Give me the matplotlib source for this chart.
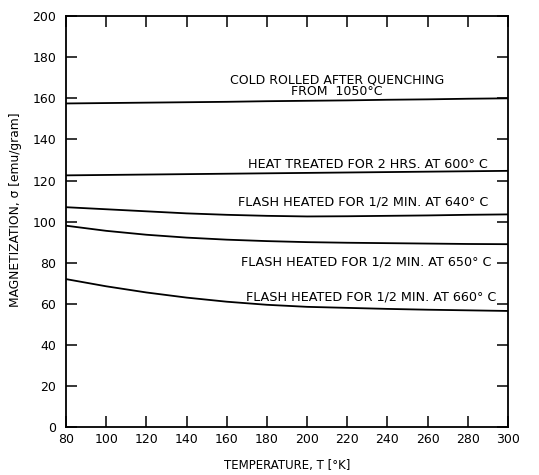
import matplotlib
matplotlib.use("Agg")
import matplotlib.pyplot as plt
import numpy as np

T = [80, 100, 120, 140, 160, 180, 200, 220, 240, 260, 280, 300]
cold_rolled = [157.5, 157.7, 157.9, 158.1, 158.3, 158.6, 158.8, 159.0, 159.3, 159.5, 159.8, 160.0]
heat_600 = [122.5, 122.7, 122.9, 123.1, 123.3, 123.5, 123.7, 123.9, 124.1, 124.3, 124.5, 124.7]
flash_640 = [107.0, 106.0, 105.0, 104.0, 103.3, 102.8, 102.5, 102.6, 102.8, 103.0, 103.3, 103.5]
flash_650 = [98.0, 95.5, 93.6, 92.2, 91.2, 90.5, 90.0, 89.7, 89.5, 89.3, 89.1, 89.0]
flash_660 = [72.0, 68.5, 65.5, 63.0, 61.0, 59.5, 58.5, 58.0, 57.5, 57.1, 56.8, 56.5]

xticks = list(range(80, 301, 20))
yticks = list(range(0, 201, 20))

plt.rcParams['font.family'] = ['DejaVu Sans']
fig = plt.figure(figsize=(5.39, 4.75), dpi=100)
ax = fig.add_axes([0.1225, 0.101, 0.82, 0.865])

for ys in [cold_rolled, heat_600, flash_640, flash_650, flash_660]:
    ax.plot(T, ys, color='black', lw=1.3)

ax.set_xlim(80, 300)
ax.set_ylim(0, 200)
ax.set_xticks(xticks)
ax.set_yticks(yticks)
ax.tick_params(direction='in', length=8, width=1.1, top=True, right=True,
               labelsize=9, pad=4)
ax.tick_params(axis='y', pad=7)
for s in ax.spines.values():
    s.set_linewidth(1.3)

ax.set_xlabel('TEMPERATURE, T [°K]', fontsize=8.5, labelpad=10)
ax.set_ylabel('MAGNETIZATION, σ [emu/gram]', fontsize=8.8)
ax.yaxis.set_label_coords(-0.10, 0.53)

kw = dict(fontsize=9.2, color='black')
ax.text(215, 166, 'COLD ROLLED AFTER QUENCHING\nFROM  1050°C', ha='center', va='center',
        linespacing=0.85, fontsize=9, color='black')
ax.text(290, 128, 'HEAT TREATED FOR 2 HRS. AT 600° C', ha='right', va='center', **kw)
ax.text(290, 109.5, 'FLASH HEATED FOR 1/2 MIN. AT 640° C', ha='right', va='center', **kw)
ax.text(292, 80.3, 'FLASH HEATED FOR 1/2 MIN. AT 650° C', ha='right', va='center', **kw)
ax.text(294, 63.3, 'FLASH HEATED FOR 1/2 MIN. AT 660° C', ha='right', va='center', **kw)

fig.savefig('out.png', dpi=100)
